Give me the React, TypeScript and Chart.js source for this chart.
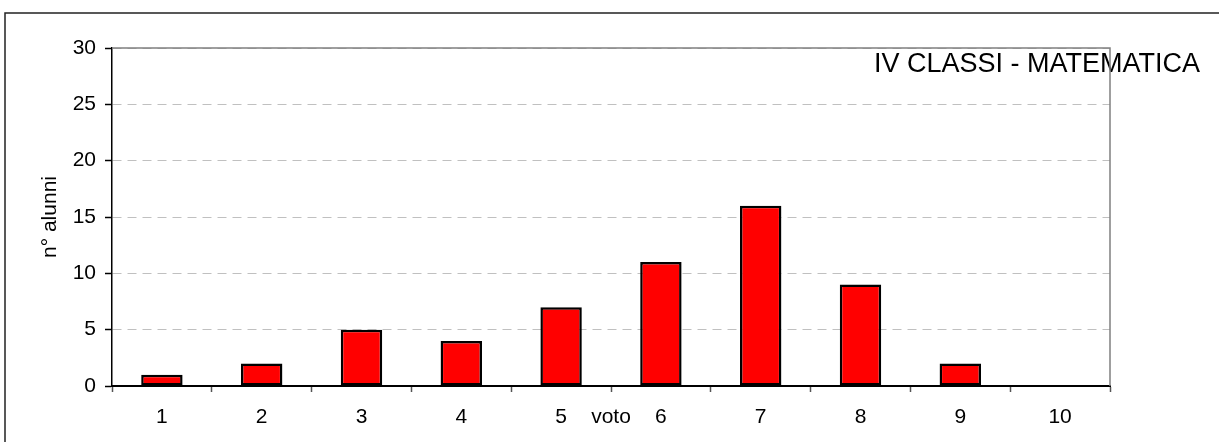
import React, { useEffect, useRef } from "react";
import { Chart, registerables } from "chart.js";

Chart.register(...registerables);

const categories = ["1", "2", "3", "4", "5", "6", "7", "8", "9", "10"];
const counts = [1, 2, 5, 4, 7, 11, 16, 9, 2, 0];
const yTicks = [0, 5, 10, 15, 20, 25, 30];
const chartTitle = "IV CLASSI - MATEMATICA";
const xTitle = "voto";
const yTitle = "n° alunni";

const FONT = "'Liberation Sans', Arial, Helvetica, sans-serif";

export default function App() {
  const ref = useRef<HTMLCanvasElement>(null);

  useEffect(() => {
    document.body.style.margin = "0";
    const canvas = ref.current;
    if (!canvas) return;

    const decor = {
      id: "decor",
      afterDraw(chart: any) {
        const { ctx, chartArea: a } = chart;
        ctx.save();
        // title
        ctx.fillStyle = "#000";
        ctx.font = `27px ${FONT}`;
        ctx.textAlign = "left";
        ctx.textBaseline = "alphabetic";
        ctx.fillText(chartTitle, 874, 71.5);
        // plot frame top & right
        ctx.strokeStyle = "#808080";
        ctx.lineWidth = 1.5;
        ctx.beginPath();
        ctx.moveTo(a.left, a.top);
        ctx.lineTo(a.right, a.top);
        ctx.lineTo(a.right, a.bottom);
        ctx.stroke();
        // outer frame
        ctx.strokeStyle = "#222";
        ctx.lineWidth = 1.5;
        ctx.beginPath();
        ctx.moveTo(5, chart.height);
        ctx.lineTo(5, 13);
        ctx.lineTo(chart.width, 13);
        ctx.stroke();
        ctx.restore();
      },
    };

    const chart = new Chart(canvas, {
      type: "bar",
      data: {
        labels: categories,
        datasets: [
          {
            data: counts,
            backgroundColor: "#ff0000",
            borderColor: "#000000",
            borderWidth: 2.5,
            borderSkipped: false,
            categoryPercentage: 1,
            barPercentage: 0.415,
          },
        ],
      },
      options: {
        animation: false,
        responsive: false,
        events: [],
        layout: { padding: { left: 0, top: 48, right: 109, bottom: 0 } },
        plugins: {
          legend: { display: false },
          tooltip: { enabled: false },
          title: { display: false },
        },
        scales: {
          x: {
            type: "category",
            grid: {
              offset: true,
              drawOnChartArea: false,
              drawTicks: true,
              tickLength: 6,
              tickColor: "#555",
              tickWidth: 1.5,
            },
            border: { color: "#000", width: 2 },
            ticks: {
              color: "#000",
              font: { family: FONT, size: 21 },
              padding: 12.4,
              maxRotation: 0,
              autoSkip: false,
            },
            title: {
              display: true,
              text: xTitle,
              color: "#000",
              font: { family: FONT, size: 21 },
              padding: { top: 0, bottom: 12.4 },
            },
            afterFit: (s: any) => {
              s.height = 56;
            },
          },
          y: {
            min: 0,
            max: 30,
            afterBuildTicks: (s: any) => {
              s.ticks = yTicks.map((v) => ({ value: v }));
            },
            grid: {
              color: "#c0c0c0",
              lineWidth: 1,
              drawTicks: true,
              tickLength: 7,
              tickColor: "#000",
              tickWidth: 1.5,
            },
            border: { color: "#000", width: 1.5, dash: [9, 6] },
            ticks: {
              color: "#000",
              font: { family: FONT, size: 21 },
              padding: 9,
            },
            title: {
              display: true,
              text: yTitle,
              color: "#000",
              font: { family: FONT, size: 21 },
              padding: { top: 37.4, bottom: 0 },
            },
            afterFit: (s: any) => {
              s.width = 112;
            },
          },
        },
      },
      plugins: [decor],
    });

    return () => chart.destroy();
  }, []);

  return <canvas ref={ref} width={1219} height={442} style={{ display: "block" }} />;
}
